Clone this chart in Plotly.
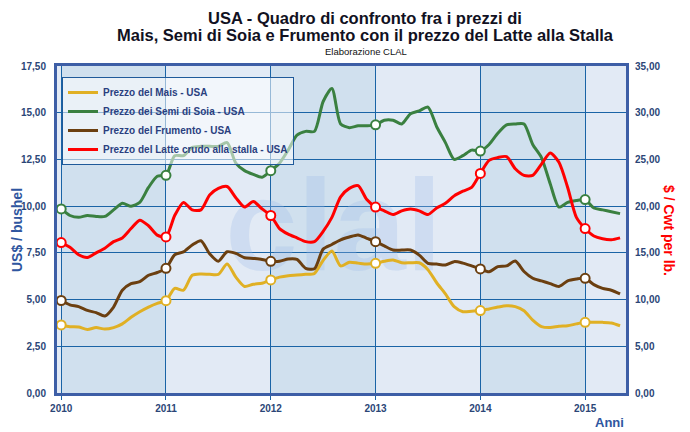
import plotly.graph_objects as go

# ---------------- data (monthly, Jan 2010 - May 2015) ----------------
start_year = 2010
n_months = 65
x_vals = [start_year + m / 12 for m in range(n_months)]

mais = [3.64, 3.55, 3.53, 3.40, 3.50, 3.42, 3.50, 3.70, 4.05, 4.35, 4.60, 4.80,
        4.94, 5.60, 5.50, 6.30, 6.37, 6.35, 6.35, 6.90, 6.20, 5.70, 5.82, 5.87,
        6.05, 6.20, 6.28, 6.31, 6.35, 6.40, 7.10, 7.60, 6.80, 7.00, 6.95, 6.90,
        6.94, 7.05, 7.12, 6.97, 6.97, 6.97, 6.60, 5.90, 5.30, 4.62, 4.35, 4.38,
        4.41, 4.50, 4.60, 4.67, 4.62, 4.40, 3.90, 3.55, 3.50, 3.57, 3.60, 3.70,
        3.78, 3.78, 3.78, 3.75, 3.60]

soia = [9.85, 9.50, 9.40, 9.50, 9.45, 9.45, 9.80, 10.15, 10.00, 10.20, 11.00, 11.60,
        11.65, 12.70, 12.70, 13.15, 13.20, 13.20, 13.20, 13.40, 12.30, 11.90, 11.70, 11.55,
        11.90, 12.30, 13.00, 13.80, 14.00, 14.00, 15.60, 16.30, 14.40, 14.20, 14.30, 14.30,
        14.35, 14.60, 14.60, 14.40, 14.95, 15.10, 15.30, 14.25, 13.40, 12.50, 12.70, 13.00,
        12.95, 13.30, 13.90, 14.35, 14.40, 14.40, 13.30, 12.60, 11.20, 9.95, 10.20, 10.30,
        10.35, 9.90, 9.80, 9.70, 9.60]

frumento = [4.95, 4.72, 4.62, 4.42, 4.30, 4.12, 4.60, 5.50, 5.85, 5.96, 6.30, 6.45,
            6.67, 7.40, 7.55, 7.92, 8.15, 7.45, 7.05, 7.56, 7.47, 7.24, 7.20, 7.15,
            7.05, 7.05, 7.17, 7.15, 6.67, 6.65, 7.70, 7.95, 8.20, 8.35, 8.46, 8.28,
            8.10, 7.87, 7.65, 7.65, 7.65, 7.38, 6.94, 6.90, 6.85, 7.03, 6.95, 6.80,
            6.64, 6.49, 6.76, 6.80, 7.06, 6.50, 6.14, 6.00, 5.85, 5.70, 6.00, 6.10,
            6.14, 5.80, 5.60, 5.50, 5.30]

latte = [16.1, 15.6, 14.8, 14.5, 15.0, 15.5, 16.2, 16.6, 17.6, 18.5, 17.9, 16.9,
         16.7, 19.0, 20.4, 19.6, 19.6, 21.2, 21.9, 22.1, 20.9, 19.9, 20.5, 19.7,
         19.0, 17.6, 17.0, 16.6, 16.2, 16.2, 17.3, 18.8, 21.0, 21.9, 22.2, 20.7,
         19.9, 19.5, 19.1, 19.5, 19.7, 19.5, 19.1, 19.8, 20.3, 21.1, 21.6, 22.0,
         23.5, 24.9, 25.2, 25.3, 24.0, 23.3, 23.3, 24.5, 25.7, 24.7, 22.0, 18.8,
         17.6, 16.8, 16.5, 16.4, 16.6]

series_names = ["Prezzo del Mais - USA", "Prezzo dei Semi di Soia - USA",
                "Prezzo del Frumento - USA", "Prezzo del Latte crudo alla stalla - USA"]
series_colors = ["#e0b024", "#3a8040", "#6b3f10", "#ff0000"]
year_ticks = [2010, 2011, 2012, 2013, 2014, 2015]
left_ticks = [0, 2.5, 5, 7.5, 10, 12.5, 15, 17.5]
right_ticks = [0, 5, 10, 15, 20, 25, 30, 35]

# ---------------- layout geometry ----------------
W, H = 690, 432
ML, MR, MT, MB = 57, 64, 66, 39
PW, PH = W - ML - MR, H - MT - MB


def px_x(px):
    return (px - ML) / PW


def px_y(py):
    return (H - MB - py) / PH


X_RANGE = [2009.96, 2015.39]
TXT = "#2b4677"
BLUE = "#2f56a0"
GRID = "#1a64a6"
FRAME = "#3d5ea6"

fig = go.Figure()

# watermark (drawn first, below the lines)
fig.add_trace(go.Scatter(x=[2012.6], y=[8.3], mode="text", text=["clal"],
                         textfont=dict(family="Liberation Sans", size=130, weight="bold",
                                       color="rgba(160,190,232,0.30)"),
                         hoverinfo="skip", showlegend=False))

series = [mais, soia, frumento, latte]
for i, (vals, name, col) in enumerate(zip(series, series_names, series_colors)):
    axis = "y2" if i == 3 else "y"
    fig.add_trace(go.Scatter(x=x_vals, y=vals, mode="lines", name=name, yaxis=axis,
                             line=dict(color=col, width=3, shape="spline", smoothing=0.7)))

for i, (vals, col) in enumerate(zip(series, series_colors)):
    axis = "y2" if i == 3 else "y"
    idx = list(range(0, n_months, 12))
    fig.add_trace(go.Scatter(x=[x_vals[k] for k in idx], y=[vals[k] for k in idx],
                             mode="markers", yaxis=axis, showlegend=False, hoverinfo="skip",
                             marker=dict(size=9, color="white", line=dict(color=col, width=2))))

# alternating yearly background bands
shapes = []
for yr in [year_ticks[0] - 1] + year_ticks:
    if yr % 2 == 0:
        shapes.append(dict(type="rect", xref="x", yref="paper",
                           x0=max(yr, X_RANGE[0]), x1=min(yr + 1, X_RANGE[1]), y0=0, y1=1,
                           fillcolor="#d0e0ee", line=dict(width=0), layer="below"))

font_t = "Liberation Sans, Arial, sans-serif"
annotations = [
    dict(text="USA - Quadro di confronto fra i prezzi di", x=px_x(365), y=px_y(18),
         font=dict(family=font_t, size=16.5, weight="bold", color="#111122")),
    dict(text="Mais, Semi di Soia e Frumento con il prezzo del Latte alla Stalla",
         x=px_x(365), y=px_y(35),
         font=dict(family=font_t, size=16.5, weight="bold", color="#111122")),
    dict(text="Elaborazione CLAL", x=px_x(366), y=px_y(52),
         font=dict(family=font_t, size=9.5, color="#111111")),
    dict(text="US$ / bushel", x=px_x(17), y=px_y(230), textangle=-90,
         font=dict(family=font_t, size=14, weight="bold", color=BLUE)),
    dict(text="$ / Cwt per lb.", x=px_x(669), y=px_y(230), textangle=90,
         font=dict(family=font_t, size=14, weight="bold", color="#ff0000")),
    dict(text="Anni", x=px_x(626), y=px_y(423), xanchor="right",
         font=dict(family=font_t, size=13, weight="bold", color=BLUE)),
]
for a in annotations:
    a.update(xref="paper", yref="paper", showarrow=False)
    a.setdefault("xanchor", "center")
    a.setdefault("yanchor", "middle")

tickfont = dict(family=font_t, size=10, weight="bold", color=TXT)

fig.update_layout(
    width=W, height=H, autosize=False,
    margin=dict(l=ML, r=MR, t=MT, b=MB),
    paper_bgcolor="white", plot_bgcolor="#e2eaf5",
    separators=", ",
    shapes=shapes, annotations=annotations,
    xaxis=dict(range=X_RANGE, tickvals=year_ticks, ticktext=[str(y) for y in year_ticks],
               showgrid=True, gridcolor=GRID, gridwidth=1, zeroline=False,
               showline=True, linecolor=FRAME, linewidth=3, mirror=True,
               ticks="outside", ticklen=4, tickcolor=GRID, tickfont=tickfont),
    yaxis=dict(range=[0, 17.5], tickvals=left_ticks, tickformat=".2f",
               showgrid=True, gridcolor=GRID, gridwidth=1, zeroline=False,
               showline=True, linecolor=FRAME, linewidth=3, mirror=True,
               ticks="", tickfont=tickfont, ticklabelstandoff=6),
    yaxis2=dict(range=[0, 35], tickvals=right_ticks, tickformat=".2f", overlaying="y",
                side="right", showgrid=False, zeroline=False, showline=False,
                ticks="", tickfont=tickfont, ticklabelstandoff=8),
    legend=dict(x=px_x(62), y=px_y(77), xanchor="left", yanchor="top",
                bgcolor="rgba(255,255,255,0.55)", bordercolor="#1f5a9a", borderwidth=1,
                font=dict(family=font_t, size=10, weight="bold", color="#2a3f7f"),
                itemwidth=30, tracegroupgap=0),
    showlegend=True,
)

fig.write_html("out.html", config={"displayModeBar": False},
               post_script="document.body.style.margin='0';"
                           "document.body.style.overflow='hidden';")
